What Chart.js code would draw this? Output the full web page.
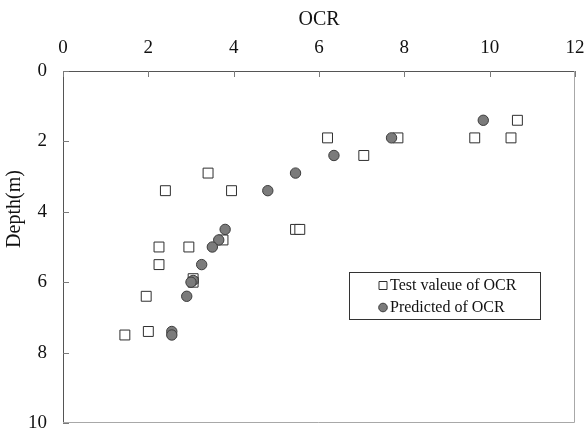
<!DOCTYPE html>
<html>
<head>
<meta charset="utf-8">
<script src="https://cdn.jsdelivr.net/npm/chart.js@4/dist/chart.umd.min.js"></script>
<style>
  html, body { margin: 0; padding: 0; background: #fff; }
  #wrap { width: 585px; height: 432px; }
</style>
</head>
<body>
<div id="wrap"><canvas id="c"></canvas></div>
<script>
// Measured OCR against depth
const testOCR   = [10.65, 9.65, 10.5, 6.2, 7.85, 7.05, 3.4, 2.4, 3.95, 5.45, 5.55, 3.75, 2.25, 2.95, 2.25, 3.05, 3.05, 1.95, 2.0, 1.45];
const testDepth = [1.4, 1.9, 1.9, 1.9, 1.9, 2.4, 2.9, 3.4, 3.4, 4.5, 4.5, 4.8, 5.0, 5.0, 5.5, 5.9, 6.0, 6.4, 7.4, 7.5];
// Predicted OCR against depth
const predOCR   = [9.85, 7.7, 6.35, 5.45, 4.8, 3.8, 3.65, 3.5, 3.25, 3.05, 3.0, 2.9, 2.55, 2.55];
const predDepth = [1.4, 1.9, 2.4, 2.9, 3.4, 4.5, 4.8, 5.0, 5.5, 5.95, 6.0, 6.4, 7.4, 7.5];
// Axis ticks
const ocrTicks   = [0, 2, 4, 6, 8, 10, 12];
const depthTicks = [0, 2, 4, 6, 8, 10];

const seriesNames = ['Test valeue of OCR', 'Predicted of OCR'];
const xTitle = 'OCR';
const yTitle = 'Depth(m)';

const FONT = "'Liberation Serif', 'Times New Roman', serif";
Chart.defaults.font.family = FONT;
Chart.defaults.color = '#111';

const pairs = (xs, ys) => xs.map((x, i) => ({ x: x, y: ys[i] }));

// Short tick marks pointing into the plot, plus the light right/bottom frame
const framePlugin = {
  id: 'frame',
  beforeDatasetsDraw(chart) {
    const { ctx, chartArea: a, scales } = chart;
    ctx.save();
    ctx.strokeStyle = '#a8a8a8';
    ctx.lineWidth = 1;
    ctx.beginPath();
    ctx.moveTo(a.right - 0.5, a.top);
    ctx.lineTo(a.right - 0.5, a.bottom - 0.5);
    ctx.lineTo(a.left, a.bottom - 0.5);
    ctx.stroke();

    ctx.strokeStyle = '#7a7a7a';
    ctx.beginPath();
    scales.y.ticks.forEach(t => {
      const py = Math.round(scales.y.getPixelForValue(t.value)) + 0.5;
      ctx.moveTo(a.left, py);
      ctx.lineTo(a.left + 6, py);
    });
    scales.x.ticks.forEach(t => {
      const px = Math.round(scales.x.getPixelForValue(t.value)) + 0.5;
      ctx.moveTo(px, a.top);
      ctx.lineTo(px, a.top + 6);
    });
    ctx.stroke();
    ctx.restore();
  }
};

// Vertical axis title and the boxed legend
const labelsPlugin = {
  id: 'labels',
  afterDraw(chart) {
    const { ctx } = chart;
    ctx.save();
    ctx.fillStyle = '#111';
    ctx.font = '20px ' + FONT;
    ctx.textAlign = 'center';
    ctx.textBaseline = 'middle';
    ctx.translate(15, 209);
    ctx.rotate(-Math.PI / 2);
    ctx.fillText(yTitle, 0, 0);
    ctx.restore();

    ctx.save();
    ctx.strokeStyle = '#333';
    ctx.lineWidth = 1;
    ctx.strokeRect(349.5, 272.5, 191, 47);
    const rows = [285.5, 307.5];
    chart.data.datasets.forEach((ds, i) => {
      const y = rows[i];
      ctx.fillStyle = ds.backgroundColor;
      ctx.strokeStyle = ds.borderColor;
      ctx.lineWidth = 1;
      ctx.beginPath();
      if (ds.pointStyle === 'rect') {
        ctx.rect(379, y - 4, 8, 8);
      } else {
        ctx.arc(383, y, 4.3, 0, Math.PI * 2);
      }
      ctx.fill();
      ctx.stroke();
      ctx.fillStyle = '#111';
      ctx.font = '16px ' + FONT;
      ctx.textAlign = 'left';
      ctx.textBaseline = 'middle';
      ctx.fillText(ds.label, 390, y);
    });
    ctx.restore();
  }
};

new Chart(document.getElementById('c'), {
  type: 'scatter',
  data: {
    datasets: [
      {
        label: seriesNames[0],
        data: pairs(testOCR, testDepth),
        pointStyle: 'rect',
        pointRadius: 7,
        pointHoverRadius: 7,
        backgroundColor: '#ffffff',
        borderColor: '#2e2e2e',
        borderWidth: 1,
        order: 2
      },
      {
        label: seriesNames[1],
        data: pairs(predOCR, predDepth),
        pointStyle: 'circle',
        pointRadius: 5.2,
        pointHoverRadius: 5.2,
        backgroundColor: '#7b7b7b',
        borderColor: '#3c3c3c',
        borderWidth: 1,
        order: 1
      }
    ]
  },
  options: {
    responsive: true,
    maintainAspectRatio: false,
    animation: false,
    layout: { padding: { left: 0, top: 0, right: 10, bottom: 9 } },
    plugins: { legend: { display: false }, tooltip: { enabled: false } },
    scales: {
      x: {
        type: 'linear',
        position: 'top',
        min: 0, max: 12,
        afterBuildTicks: s => { s.ticks = ocrTicks.map(v => ({ value: v })); },
        afterFit: s => { s.height = 71; s.paddingLeft = 0; s.paddingRight = 0; },
        grid: { display: false, drawTicks: false },
        border: { display: true, color: '#555', width: 1 },
        ticks: { padding: 12, font: { size: 19 }, color: '#111', maxRotation: 0 },
        title: { display: true, text: xTitle, font: { size: 20 }, color: '#111', padding: { top: 8, bottom: 0 } }
      },
      y: {
        type: 'linear',
        position: 'left',
        reverse: true,
        min: 0, max: 10,
        afterBuildTicks: s => { s.ticks = depthTicks.map(v => ({ value: v })); },
        afterFit: s => { s.width = 63; s.paddingTop = 0; s.paddingBottom = 0; },
        grid: { display: false, drawTicks: false },
        border: { display: true, color: '#555', width: 1 },
        ticks: { padding: 16, font: { size: 19 }, color: '#111' }
      }
    }
  },
  plugins: [framePlugin, labelsPlugin]
});
</script>
</body>
</html>
